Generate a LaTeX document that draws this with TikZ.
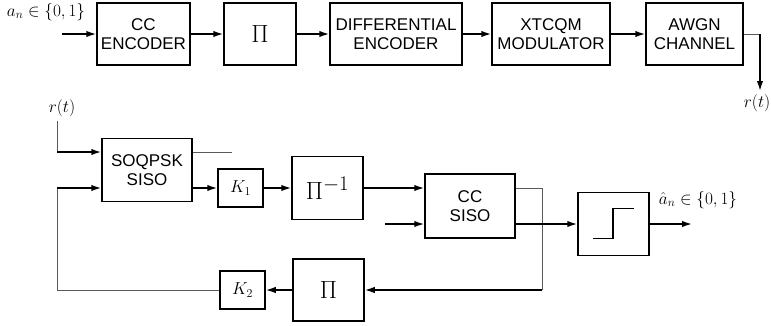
\documentclass[tikz,border=0pt]{standalone}
\usepackage{amsmath}
\usepackage{amssymb}
\usepackage{xcolor}
\usepackage{fontspec}
\setmainfont{Liberation Sans}
\usetikzlibrary{arrows.meta}

\begin{document}
\begin{tikzpicture}[x=1pt,y=-1pt,
  blk/.style={draw,line width=1.5pt,inner sep=0pt,align=center,font=\fontsize{17}{19}\selectfont},
  big/.style={font=\fontsize{28}{30}\selectfont},
  lbl/.style={inner sep=0pt,font=\fontsize{17}{20}\selectfont},
  sig/.style={line width=1.6pt,-{Latex[length=10pt,width=6.5pt]}},
  wire/.style={line width=0.9pt,black!65}]
\useasboundingbox (0,0) rectangle (771,325);
\node[blk,minimum width=93pt,minimum height=62pt] (ccenc) at (143.5,34) {CC\\ENCODER};
\node[blk,big,minimum width=72pt,minimum height=62pt] (pia) at (260,34) {$\Pi$};
\node[blk,minimum width=132pt,minimum height=62pt] (diffenc) at (396,34) {DIFFERENTIAL\\ENCODER};
\node[blk,minimum width=118pt,minimum height=62pt] (xtcqm) at (551,34) {XTCQM\\MODULATOR};
\node[blk,minimum width=97pt,minimum height=62pt] (awgn) at (694.5,34) {AWGN\\CHANNEL};
\node[blk,minimum width=90pt,minimum height=63pt] (soqpsk) at (147,170) {SOQPSK\\SISO};
\node[blk,minimum width=45pt,minimum height=38pt] (kone) at (240.5,188) {$K_1$};
\node[blk,big,minimum width=71pt,minimum height=63pt] (piinv) at (327.5,188) {$\Pi^{-1}$};
\node[blk,minimum width=90pt,minimum height=64pt] (ccsiso) at (470,206) {CC\\SISO};
\node[blk,minimum width=71pt,minimum height=63pt] (slicer) at (613.5,224) {};
\node[blk,big,minimum width=71pt,minimum height=62pt] (pib) at (328.5,290) {$\Pi$};
\node[blk,minimum width=45pt,minimum height=38pt] (ktwo) at (242.5,290) {$K_2$};
\node[lbl] (alabel) at (46,12) {$a_n\in\{0,1\}$};
\node[lbl] (rlabela) at (62,108) {$r(t)$};
\node[lbl] (rlabelb) at (757,103) {$r(t)$};
\node[lbl] (ahatlabel) at (698,200) {$\hat{a}_n\in\{0,1\}$};
\coordinate (ain) at (62,34);
\coordinate (awgnbend) at (760,34);
\coordinate (rout) at (760,91);
\coordinate (rtop) at (57,121);
\coordinate (rbend) at (57,152);
\coordinate (soqpskend) at (232,152);
\coordinate (ccin) at (385,224);
\coordinate (fbright) at (542,290);
\coordinate (fbleft) at (57,188);
\coordinate (ahatout) at (692,224);
\draw[sig] (ain) -- (ccenc.west);
\draw[sig] (ccenc) -- (pia);
\draw[sig] (pia) -- (diffenc);
\draw[sig] (diffenc) -- (xtcqm);
\draw[sig] (xtcqm) -- (awgn);
\draw[wire] (awgn.east) -- (awgnbend);
\draw[sig] (awgnbend) -- (rout);
\draw[wire] (rtop) -- (rbend);
\draw[sig] (rbend) -- ([yshift=18pt]soqpsk.west);
\draw[wire] ([yshift=18pt]soqpsk.east) -- (soqpskend);
\draw[sig] ([yshift=-18pt]soqpsk.east) -- (kone.west);
\draw[sig] (kone) -- (piinv);
\draw[sig] (piinv.east) -- ([yshift=18pt]ccsiso.west);
\draw[sig] (ccin) -- ([yshift=-18pt]ccsiso.west);
\draw[wire] ([yshift=18pt]ccsiso.east) -| (fbright);
\draw[sig] (fbright) -- (pib.east);
\draw[sig] ([yshift=-18pt]ccsiso.east) -- (slicer.west);
\draw[sig] (slicer.east) -- (ahatout);
\draw[line width=1.6pt] ([shift={(-20.5,14.5)}]slicer.center) -- ++(20,0) -- ++(0,-30) -- ++(21,0);
\draw[sig] (pib.west) -- (ktwo.east);
\draw[wire] (ktwo.west) -| (fbleft);
\draw[sig] (fbleft) -- ([yshift=-18pt]soqpsk.west);
\end{tikzpicture}
\end{document}
